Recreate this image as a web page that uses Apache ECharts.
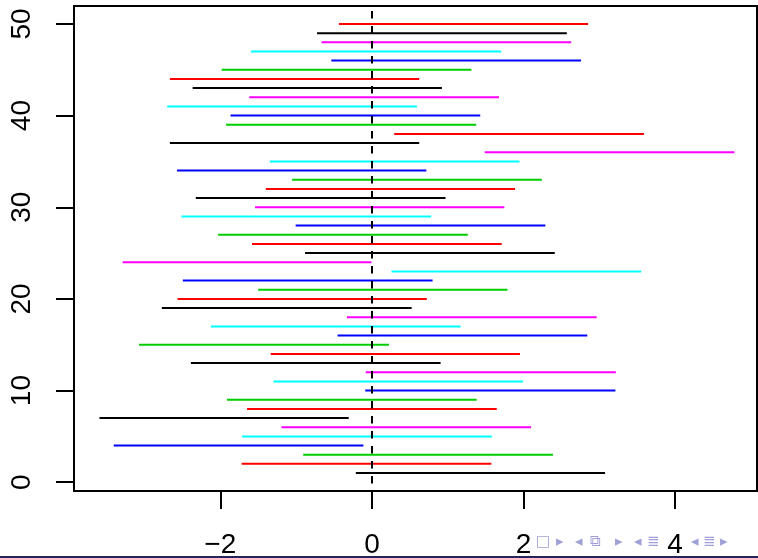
<!DOCTYPE html>
<html>
<head>
<meta charset="utf-8">
<title>intervals</title>
<script src="https://cdn.jsdelivr.net/npm/echarts@6/dist/echarts.min.js"></script>
<style>
html, body { margin: 0; padding: 0; background: #fff; }
#main { width: 758px; height: 558px; }
</style>
</head>
<body>
<div id="main"></div>
<script>
// sample index (y position of each interval)
const sampleIdx = [1, 2, 3, 4, 5, 6, 7, 8, 9, 10,
    11, 12, 13, 14, 15, 16, 17, 18, 19, 20,
    21, 22, 23, 24, 25, 26, 27, 28, 29, 30,
    31, 32, 33, 34, 35, 36, 37, 38, 39, 40,
    41, 42, 43, 44, 45, 46, 47, 48, 49, 50];
// lower ends
const lower = [-0.212, -1.718, -0.906, -3.406, -1.712, -1.194, -3.594, -1.647, -1.912, -0.088,
    -1.300, -0.082, -2.388, -1.335, -3.071, -0.453, -2.124, -0.329, -2.771, -2.565,
    -1.500, -2.494, 0.259, -3.288, -0.882, -1.582, -2.029, -1.006, -2.512, -1.541,
    -2.324, -1.400, -1.053, -2.571, -1.347, 1.488, -2.665, 0.294, -1.924, -1.865,
    -2.700, -1.618, -2.365, -2.665, -1.982, -0.535, -1.594, -0.665, -0.724, -0.435];
// upper ends
const upper = [3.076, 1.576, 2.388, -0.112, 1.582, 2.100, -0.306, 1.647, 1.382, 3.212,
    1.994, 3.218, 0.906, 1.953, 0.224, 2.841, 1.171, 2.965, 0.524, 0.724,
    1.788, 0.800, 3.553, -0.006, 2.412, 1.712, 1.265, 2.288, 0.782, 1.747,
    0.971, 1.888, 2.241, 0.718, 1.947, 4.782, 0.624, 3.588, 1.376, 1.429,
    0.594, 1.676, 0.924, 0.624, 1.312, 2.759, 1.706, 2.629, 2.571, 2.853];
const xTicks = [-2, 0, 2, 4];
const yTicks = [0, 10, 20, 30, 40, 50];
const refLine = 0;

// R palette 1..6
const palette = ['#000000', '#ff0000', '#00cd00', '#0000ff', '#00ffff', '#ff00ff'];
const font = 'Liberation Sans, Arial, Helvetica, sans-serif';

const chart = echarts.init(document.getElementById('main'));

const data = sampleIdx.map((y, i) => [lower[i], upper[i], y]);

// beamer navigation symbols (decoration)
const navSymbols = [
    ['\u25A1', 536], ['\u25B8', 556], ['\u25C2', 575], ['\u29C9', 590], ['\u25B8', 615],
    ['\u25C2', 634], ['\u2263', 647], ['\u25C2', 691], ['\u2263', 703], ['\u25B8', 720]
];

const options = {
    animation: false,
    grid: {
        left: 74,
        right: 1,
        top: 6,
        bottom: 67,
        outerBoundsMode: 'none',
        show: true,
        borderColor: '#000',
        borderWidth: 2
    },
    xAxis: {
        type: 'value',
        min: -3.93,
        max: 5.08,
        splitLine: { show: false },
        axisLine: { show: false, onZero: false },
        axisTick: {
            customValues: xTicks,
            length: 18,
            lineStyle: { color: '#000', width: 2 }
        },
        axisLabel: {
            customValues: xTicks,
            fontSize: 28,
            fontFamily: font,
            color: '#000',
            margin: 40,
            formatter: v => String(v).replace('-', '\u2212')
        }
    },
    yAxis: {
        type: 'value',
        min: -0.96,
        max: 51.96,
        splitLine: { show: false },
        axisLine: { show: false, onZero: false },
        axisTick: {
            customValues: yTicks,
            length: 18,
            lineStyle: { color: '#000', width: 2 }
        },
        axisLabel: {
            customValues: yTicks,
            rotate: 90,
            fontSize: 28,
            fontFamily: font,
            color: '#000',
            margin: 38
        }
    },
    series: [
        {
            type: 'custom',
            data: data,
            encode: { x: [0, 1], y: 2 },
            renderItem: function (params, api) {
                const y = api.value(2);
                const p1 = api.coord([api.value(0), y]);
                const p2 = api.coord([api.value(1), y]);
                return {
                    type: 'line',
                    shape: { x1: p1[0], y1: p1[1], x2: p2[0], y2: p2[1] },
                    style: { stroke: palette[(y - 1) % 6], lineWidth: 2 }
                };
            },
            markLine: {
                silent: true,
                symbol: 'none',
                label: { show: false },
                lineStyle: { color: '#000', width: 2, type: [7.5, 7.5], dashOffset: 7.5 },
                data: [{ xAxis: refLine }]
            }
        }
    ],
    graphic: [
        {
            type: 'rect',
            left: 0,
            top: 556,
            z: 100,
            shape: { width: 758, height: 2 },
            style: { fill: '#23235e' }
        }
    ].concat(navSymbols.map(s => ({
        type: 'text',
        left: s[1],
        top: 535,
        z: 90,
        style: { text: s[0], fill: '#a0a0d8', fontSize: 15, fontFamily: 'DejaVu Sans' }
    })))
};

chart.setOption(options);
</script>
</body>
</html>
